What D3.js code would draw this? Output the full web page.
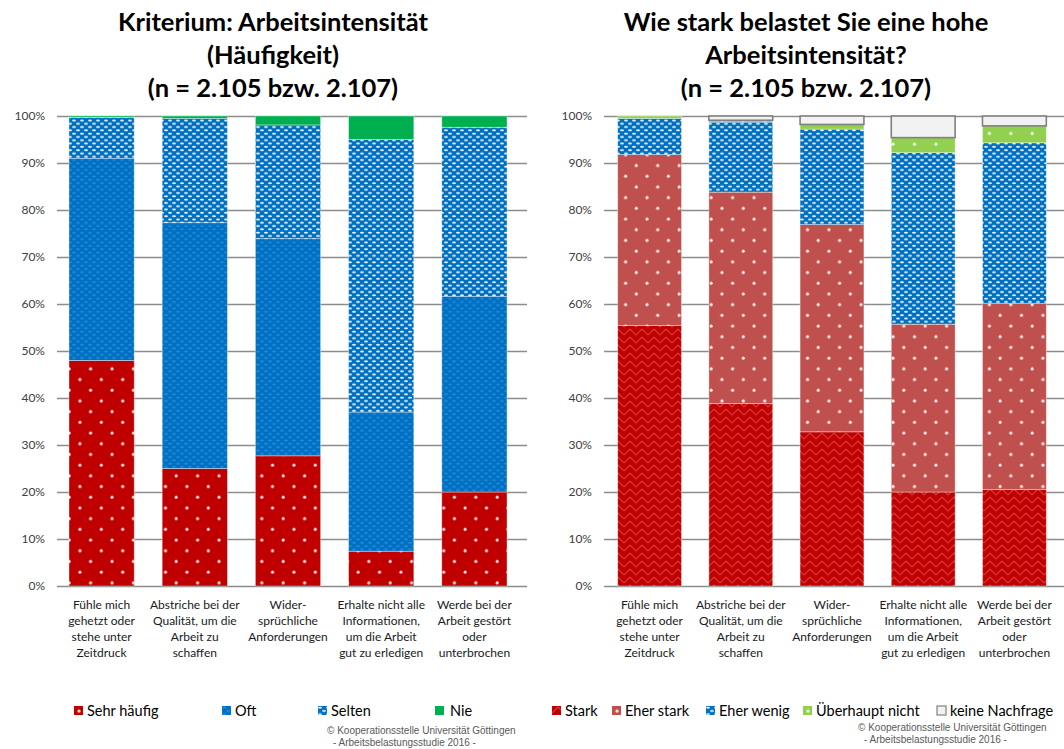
<!DOCTYPE html>
<html>
<head>
<meta charset="utf-8">
<style>
    body { margin: 0; background: #ffffff; }
    svg { display: block; }
    .title { font-family: Lato, 'Open Sans', sans-serif; font-weight: bold; font-size: 25.5px; fill: #000; }
    .tick text { font-family: Lato, sans-serif; font-size: 12px; fill: #404040; }
    .catlabel { font-family: Lato, sans-serif; font-size: 12px; fill: #1a1a1a; }
    .legend text { font-family: Lato, sans-serif; font-size: 14.5px; fill: #000; }
    .copy { font-family: 'Liberation Sans', Arial, sans-serif; font-size: 10px; fill: #595959; }
</style>
</head>
<body>
<svg width="1064" height="749"></svg>

<script src="https://d3js.org/d3.v7.min.js"></script>
<script>
//------------------------------DATA------------------------------//
let categories = [
    ["Fühle mich", "gehetzt oder", "stehe unter", "Zeitdruck"],
    ["Abstriche bei der", "Qualität, um die", "Arbeit zu", "schaffen"],
    ["Wider-", "sprüchliche", "Anforderungen"],
    ["Erhalte nicht alle", "Informationen,", "um die Arbeit", "gut zu erledigen"],
    ["Werde bei der", "Arbeit gestört", "oder", "unterbrochen"]
]

let yTicks = [0, 0.1, 0.2, 0.3, 0.4, 0.5, 0.6, 0.7, 0.8, 0.9, 1]

// left chart: Häufigkeit (percent)
let leftKeys = ["Sehr häufig", "Oft", "Selten", "Nie"]
let sehrHaeufig = [48.0, 25.0, 27.7, 7.4, 20.0]
let oft = [43.0, 52.3, 46.2, 29.6, 41.6]
let selten = [8.7, 22.2, 24.2, 58.0, 36.0]
let nie = [0.3, 0.5, 1.9, 5.0, 2.4]

// right chart: Belastung (percent)
let rightKeys = ["Stark", "Eher stark", "Eher wenig", "Überhaupt nicht", "keine Nachfrage"]
let stark = [55.4, 38.8, 32.8, 20.0, 20.5]
let eherStark = [36.4, 45.0, 44.1, 35.7, 39.6]
let eherWenig = [7.7, 14.9, 20.3, 36.5, 34.2]
let ueberhauptNicht = [0.5, 0.4, 1.0, 3.2, 3.6]
let keineNachfrage = [0.0, 0.9, 1.8, 4.6, 2.1]

let svg = d3.select("svg")

//----------------------------PATTERNS----------------------------//
let defs = svg.append("defs")

function dotPattern(id, color) {
    let p = defs.append("pattern").attr("id", id)
        .attr("patternUnits", "userSpaceOnUse")
        .attr("width", 21.4).attr("height", 21.4)
    p.append("rect").attr("width", 21.4).attr("height", 21.4).attr("fill", color)
    p.append("circle").attr("cx", 5).attr("cy", 5).attr("r", 1.5).attr("fill", "#fff").attr("opacity", 0.9)
    p.append("circle").attr("cx", 15.7).attr("cy", 15.7).attr("r", 1.5).attr("fill", "#fff").attr("opacity", 0.9)
}

function ellipsePattern(id, color, dash, op) {
    let p = defs.append("pattern").attr("id", id)
        .attr("patternUnits", "userSpaceOnUse")
        .attr("width", 8).attr("height", 6.6)
    p.append("rect").attr("width", 8).attr("height", 6.6).attr("fill", color)
    p.append("ellipse").attr("cx", 2).attr("cy", 1.6).attr("rx", 2).attr("ry", 1).attr("fill", dash).attr("opacity", op)
    p.append("ellipse").attr("cx", 6).attr("cy", 4.9).attr("rx", 2).attr("ry", 1).attr("fill", dash).attr("opacity", op)
}

function zigzagPattern(id, color, line) {
    let p = defs.append("pattern").attr("id", id)
        .attr("patternUnits", "userSpaceOnUse")
        .attr("width", 12).attr("height", 8)
    p.append("rect").attr("width", 12).attr("height", 8).attr("fill", color)
    p.append("path").attr("d", "M0,7 L6,1 L12,7 M-1,2 L0,1 M12,1 L13,2")
        .attr("fill", "none").attr("stroke", line).attr("stroke-width", 1.1).attr("opacity", 0.8)
}

dotPattern("p-sehr", "#c00000")
ellipsePattern("p-oft", "#0070c0", "#2a90e8", 0.8)
ellipsePattern("p-selten", "#0070c0", "#ffffff", 0.95)
zigzagPattern("p-stark", "#c00000", "#dd4a4a")
dotPattern("p-eher", "#c0504d")
dotPattern("p-ueber", "#92d050")

let leftFill = {"Sehr häufig": "url(#p-sehr)", "Oft": "url(#p-oft)", "Selten": "url(#p-selten)", "Nie": "#00b050"}
let rightFill = {"Stark": "url(#p-stark)", "Eher stark": "url(#p-eher)", "Eher wenig": "url(#p-selten)",
                 "Überhaupt nicht": "url(#p-ueber)", "keine Nachfrage": "#f2f2f2"}

//----------------------------CHART FUNCTION----------------------------//
function drawChart(opt) {
    let g = svg.append("g")

    // table for stacking
    let rows = categories.map(function(c, i) {
        let r = {idx: i}
        opt.keys.forEach(function(k, j) { r[k] = opt.series[j][i] / 100 })
        return r
    })
    let stacked = d3.stack().keys(opt.keys)(rows)

    let x = d3.scaleBand()
        .domain(d3.range(categories.length))
        .range(opt.xRange)
        .paddingInner(0.3)
        .paddingOuter(0.15)

    let y = d3.scaleLinear().domain([0, 1]).range([586, 116])

    // gridlines + y labels
    g.append("g")
        .attr("transform", `translate(${opt.gridX[0]},0)`)
        .call(d3.axisLeft(y)
            .tickValues(yTicks)
            .tickFormat(d3.format(".0%"))
            .tickSize(-(opt.gridX[1] - opt.gridX[0]))
            .tickPadding(12))
        .call(a => a.select(".domain").remove())
        .call(a => a.selectAll(".tick line").attr("stroke", "#8c8c8c").attr("stroke-width", 1.6))

    // bars
    g.append("g").selectAll("g")
        .data(stacked)
        .join("g")
        .attr("fill", d => opt.fill[d.key])
        .selectAll("rect")
        .data(d => d.map(v => ({v: v, key: d.key})))
        .join("rect")
        .attr("x", d => x(d.v.data.idx))
        .attr("width", x.bandwidth())
        .attr("y", d => y(d.v[1]))
        .attr("height", d => Math.max(0, y(d.v[0]) - y(d.v[1])))
        .attr("stroke", d => d.key == "keine Nachfrage" ? "#808080" : "rgba(255,255,255,0.45)")
        .attr("stroke-width", d => d.key == "keine Nachfrage" ? 1.6 : 0.8)
        .attr("display", d => d.v[1] - d.v[0] > 0 ? null : "none")

    // category labels
    let labels = g.append("g").selectAll("text")
        .data(categories)
        .join("text")
        .attr("class", "catlabel")
        .attr("text-anchor", "middle")
        .attr("x", (d, i) => x(i) + x.bandwidth() / 2)
        .attr("y", 609)
    labels.selectAll("tspan")
        .data(d => d)
        .join("tspan")
        .attr("x", function() { return d3.select(this.parentNode).attr("x") })
        .attr("dy", (d, i) => i == 0 ? 0 : 16)
        .text(d => d)

    // title
    g.append("text")
        .attr("class", "title")
        .attr("text-anchor", "middle")
        .selectAll("tspan")
        .data(opt.title)
        .join("tspan")
        .attr("x", opt.titleX)
        .attr("y", (d, i) => 31 + i * 33)
        .text(d => d)

    // legend
    let leg = g.append("g").attr("class", "legend")
        .selectAll("g")
        .data(opt.keys)
        .join("g")
        .attr("transform", (d, i) => `translate(${opt.legendX[i]},706)`)
    leg.append("rect")
        .attr("width", 9).attr("height", 9)
        .attr("fill", d => opt.fill[d])
        .attr("stroke", d => d == "keine Nachfrage" ? "#808080" : "none")
        .attr("stroke-width", 1.2)
    leg.append("text")
        .attr("x", d => opt.legendGap[d] || 13)
        .attr("y", 10)
        .text(d => d)

    // copyright
    g.append("text").attr("class", "copy")
        .attr("x", opt.copyX).attr("y", opt.copyY)
        .text("© Kooperationsstelle Universität Göttingen")
    g.append("text").attr("class", "copy")
        .attr("x", opt.copyX + 6).attr("y", opt.copyY + 12)
        .text("- Arbeitsbelastungsstudie 2016 -")
}

//----------------------------DRAW----------------------------//
drawChart({
    keys: leftKeys,
    series: [sehrHaeufig, oft, selten, nie],
    fill: leftFill,
    xRange: [55, 521],
    gridX: [57, 527],
    title: ["Kriterium: Arbeitsintensität", "(Häufigkeit)", "(n = 2.105 bzw. 2.107)"],
    titleX: 273,
    legendX: [74, 222, 318, 435],
    legendGap: {"Nie": 15},
    copyX: 327,
    copyY: 734
})

drawChart({
    keys: rightKeys,
    series: [stark, eherStark, eherWenig, ueberhauptNicht, keineNachfrage],
    fill: rightFill,
    xRange: [604, 1060],
    gridX: [604, 1064],
    title: ["Wie stark belastet Sie eine hohe", "Arbeitsintensität?", "(n = 2.105 bzw. 2.107)"],
    titleX: 806,
    legendX: [552, 612, 706, 803, 937],
    legendGap: {},
    copyX: 858,
    copyY: 731
})
</script>
</body>
</html>
